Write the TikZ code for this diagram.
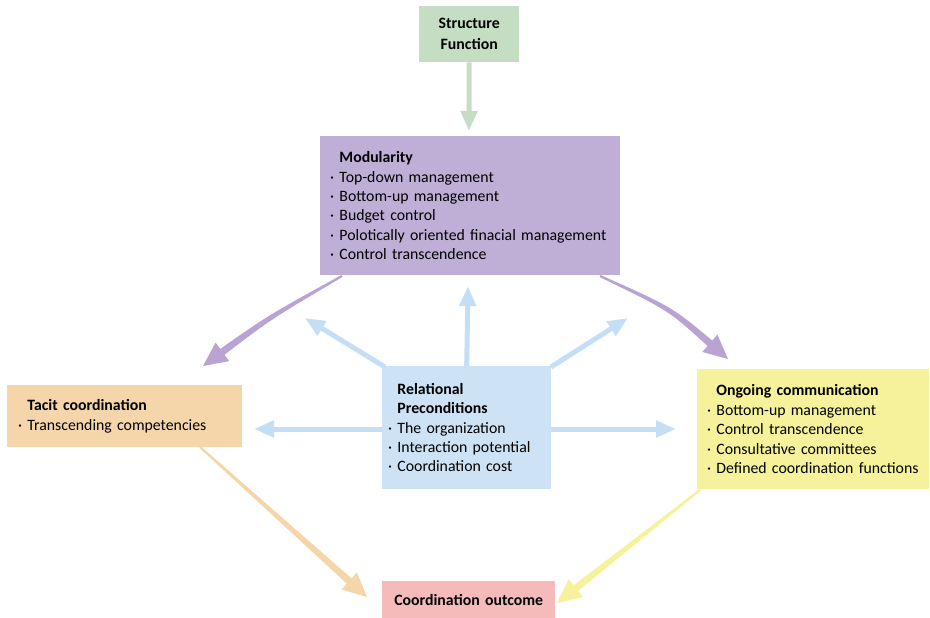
\documentclass[tikz,border=0pt]{standalone}
\usepackage{fontspec}
\setmainfont{Carlito}
\usetikzlibrary{arrows.meta,calc}
\definecolor{cgreen}{HTML}{C5DDC2}
\definecolor{cpurple}{HTML}{BFAFD7}
\definecolor{cpurplea}{HTML}{B8A3D3}
\definecolor{corange}{HTML}{F5D6AB}
\definecolor{cblue}{HTML}{CDE3F5}
\definecolor{cbluea}{HTML}{C3DEF5}
\definecolor{cyellow}{HTML}{F5F29B}
\definecolor{cpink}{HTML}{F5BBBA}
\tikzset{
  x=1pt, y=-1pt,
  box/.style={draw=none, anchor=north west, align=left, inner ysep=0pt,
    font=\fontsize{15.8}{19.4}\selectfont},
  arr/.style={line width=5pt, -{Triangle[length=20pt,width=16pt]}},
}
\newcommand{\bt}{\phantom{·\ }}
% tapered arrow: #1 start, #2 control, #3 tip, #4 colour
\newcommand{\tarrow}[4]{%
  \coordinate (tH) at ($(#3)!24pt!(#2)$);
  \fill[#4] ($(#1)!1.1pt!90:(#2)$) .. controls ($(#2)!2.4pt!90:(#3)$) .. ($(tH)!3.6pt!90:(#3)$)
    -- ($(tH)!11.5pt!90:(#3)$) -- (#3) -- ($(tH)!11.5pt!-90:(#3)$) -- ($(tH)!3.6pt!-90:(#3)$)
    .. controls ($(#2)!2.4pt!-90:(#3)$) .. ($(#1)!1.1pt!-90:(#2)$) -- cycle;}
\begin{document}
\begin{tikzpicture}
\useasboundingbox (0,0) rectangle (930,618);
% boxes
\node[box, fill=cgreen, minimum width=100pt, minimum height=56pt, align=center, text width=90pt, inner xsep=5pt, font=\fontsize{15.8}{21}\selectfont] (struct) at (419,6) {\textbf{Structure}\\\textbf{Function}};
\node[box, fill=cpurple, minimum width=300pt, minimum height=139pt, text width=280pt, inner xsep=10pt] (mod) at (320,136)
 {\bt\textbf{Modularity}\\· Top-down management\\· Bottom-up management\\· Budget control\\· Polotically oriented finacial management\\· Control transcendence};
\node[box, fill=corange, minimum width=235pt, minimum height=62pt, text width=213pt, inner xsep=11pt] (tacit) at (7,385)
 {\bt\textbf{Tacit coordination}\\· Transcending competencies};
\node[box, fill=cblue, minimum width=169pt, minimum height=123pt, text width=157pt, inner xsep=6pt] (rel) at (382,366)
 {\bt\textbf{Relational}\\\bt\textbf{Preconditions}\\· The organization\\· Interaction potential\\· Coordination cost};
\node[box, fill=cyellow, minimum width=232pt, minimum height=120pt, text width=222pt, inner xsep=5pt] (ong) at (697,369)
 {\hspace{5pt}\bt\textbf{Ongoing communication}\\\hspace{5pt}· Bottom-up management\\\hspace{5pt}· Control transcendence\\\hspace{5pt}· Consultative committees\\\hspace{5pt}· Defined coordination functions};
\node[box, fill=cpink, minimum width=173pt, minimum height=37pt, align=center, text width=163pt, inner xsep=5pt] (out) at (382,581) {\textbf{Coordination outcome}};
% coordinates
\coordinate (sA) at (469,131);
\coordinate (mL0) at (342,276);
\coordinate (mLc) at (270,317);
\coordinate (mL1) at (203,366);
\coordinate (mR0) at (600,276);
\coordinate (mRc) at (670,308.5);
\coordinate (mR1) at (728,359);
\coordinate (rU) at (468,286);
\coordinate (rUL0) at (385,367);
\coordinate (rUL1) at (305,318);
\coordinate (rUR0) at (551,367);
\coordinate (rUR1) at (628,318);
\coordinate (rL0) at (382,429);
\coordinate (rL1) at (254,429);
\coordinate (rR0) at (551,429);
\coordinate (rR1) at (676,429);
\coordinate (tA) at (200,447);
\coordinate (tC) at (283.5,522);
\coordinate (tB) at (367,597);
\coordinate (oA) at (700,490);
\coordinate (oC) at (628.5,546.5);
\coordinate (oB) at (557,603);
% arrows
\draw[arr, cgreen] (struct.south) -- (sA);
\tarrow{mL0}{mLc}{mL1}{cpurplea}
\tarrow{mR0}{mRc}{mR1}{cpurplea}
\draw[arr, cbluea] (rel.north) -- (rU);
\draw[arr, cbluea] (rUL0) -- (rUL1);
\draw[arr, cbluea] (rUR0) -- (rUR1);
\draw[arr, cbluea] (rL0) -- (rL1);
\draw[arr, cbluea] (rR0) -- (rR1);
\tarrow{tA}{tC}{tB}{corange}
\tarrow{oA}{oC}{oB}{cyellow}
\end{tikzpicture}
\end{document}
